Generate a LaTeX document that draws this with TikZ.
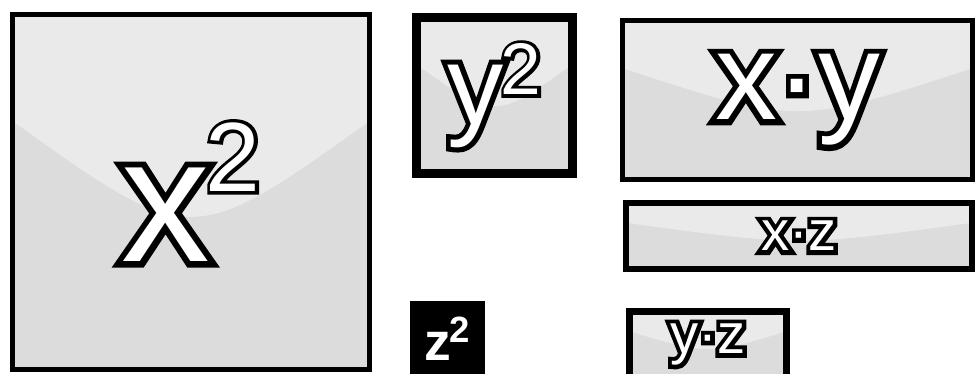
\documentclass[tikz,border=0pt]{standalone}
\usepackage{fontspec}
\setsansfont{Liberation Sans}
\usetikzlibrary{calc}
\definecolor{tilegray}{HTML}{DCDCDC}
% white letters with a black rim: a fake-bold black copy under the white one
\newcommand{\olt}[2]{\rlap{\color{black}\addfontfeature{FakeBold=#1}#2}#2}
\newcommand{\fs}[1]{\fontsize{#1}{#1}\selectfont}
\tikzset{
  gloss/.style={path picture={
    \fill[white,opacity=.4] (path picture bounding box.north west) -- (path picture bounding box.north east)
      -- ($(path picture bounding box.north east)!.3!(path picture bounding box.south east)$)
      .. controls ($(path picture bounding box.north)!.66!(path picture bounding box.south)$) ..
      ($(path picture bounding box.north west)!.3!(path picture bounding box.south west)$) -- cycle;}},
  tile/.style={draw=black,fill=tilegray,inner sep=0pt,text=white,font=\sffamily,gloss},
  dark/.style={draw=black,fill=black,inner sep=0pt,text=white,font=\sffamily\bfseries}
}

\begin{document}
\begin{tikzpicture}
\useasboundingbox (0,0) rectangle (24.4,9.325);
% squares
\node[tile,line width=0.125cm,minimum width=8.925cm,minimum height=8.875cm] (xsq) at (4.775,4.525)
  {\olt{7}{\fs{126}x\kern-3pt\raisebox{50pt}{\fs{70}2}}};
\node[tile,line width=0.225cm,minimum width=3.9cm,minimum height=3.9cm] (ysq) at (12.3625,6.9375)
  {\olt{9}{\fs{80}y\kern-2pt\raisebox{21pt}{\fs{52}2}}};
\node[dark,line width=0.1cm,minimum width=1.775cm,minimum height=1.775cm] (zsq) at (11.1875,0.8625)
  {\fs{38}z\kern-1pt\raisebox{13pt}{\fs{26}2}};
% products
\node[tile,line width=0.125cm,minimum width=8.75cm,minimum height=3.975cm] (xy) at (19.9375,6.825)
  {\olt{9}{\fs{88}x·y}};
\node[tile,line width=0.15cm,minimum width=8.65cm,minimum height=1.65cm] (xz) at (19.975,3.425)
  {\olt{15}{\fs{40}x·z}};
\node[tile,line width=0.175cm,minimum width=3.925cm,minimum height=1.65cm] (yz) at (17.7,0.7125)
  {\olt{15}{\fs{40}y·z}};
\end{tikzpicture}
\end{document}
